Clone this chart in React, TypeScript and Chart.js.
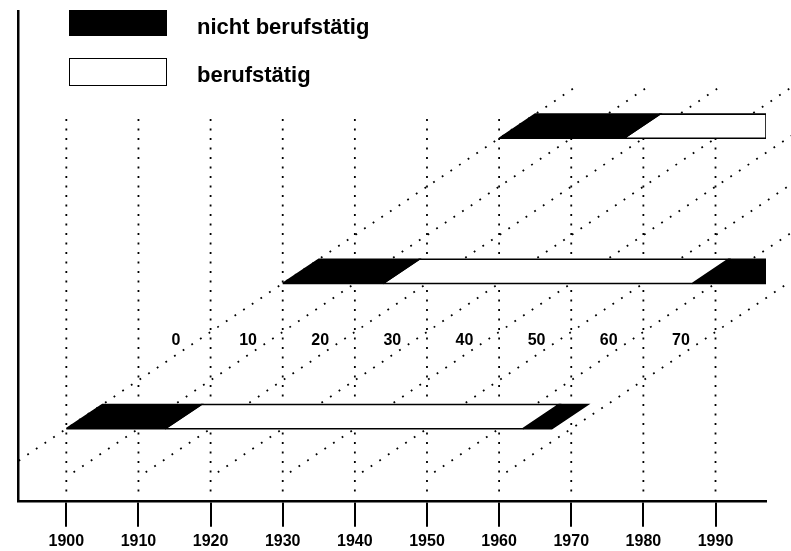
import React, { useEffect, useRef } from 'react';
import { Chart, registerables } from 'chart.js';

Chart.register(...registerables);

// ---- data ----
const decades = [1900, 1910, 1920, 1930, 1940, 1950, 1960, 1970, 1980, 1990];
const tickLabels = ['1900', '1910', '1920', '1930', '1940', '1950', '1960', '1970', '1980', '1990'];

const ageLines = [0, 10, 20, 30, 40, 50, 60, 70];
const ageLabels = ['0', '10', '20', '30', '40', '50', '60', '70'];

const legendLabels = ['nicht berufstätig', 'berufstätig'];

// birth cohorts shown as bands (5 birth years thick)
const cohorts = [1900, 1930, 1960];
const cohortBand = 5;

// phases of each life course: [status, fromAge, toAge] (null = still ongoing at end of observation)
const phases1900: [string, number, number | null][] = [
  ['nicht', 0, 13.7],
  ['beruf', 13.7, 63.3],
  ['nicht', 63.3, 67.3],
];
const phases1930: [string, number, number | null][] = [
  ['nicht', 0, 13.9],
  ['beruf', 13.9, 56.8],
  ['nicht', 56.8, null],
];
const phases1960: [string, number, number | null][] = [
  ['nicht', 0, 17.3],
  ['beruf', 17.3, null],
];
const cohortPhases = [phases1900, phases1930, phases1960];

// axis ranges (calendar year horizontally, birth year vertically)
const yearMin = 1893.3;
const yearMax = 1997;
const cohortMin = 1885.1;
const cohortMax = 1986.3;

// extents of the dotted guide lines
const ageLineCohortFrom = 1891;
const ageLineCohortTo = 1971;
const gridCohortFrom = 1887;
const gridCohortTo = 1964;

// age labels sit on this birth-year row, a little left of their line
const ageLabelCohort = 1918.1;
const ageLabelShift = -2.9;

const FONT = '"Liberation Sans", Arial, Helvetica, sans-serif';

function bandPolygon(c: number, a: number, b: number | null) {
  const t = cohortBand;
  const pts: { x: number; y: number }[] = [];
  pts.push({ x: c + a, y: c });
  if (b === null || c + b >= yearMax) {
    pts.push({ x: yearMax, y: c });
    pts.push({ x: yearMax, y: c + t });
  } else if (c + t + b <= yearMax) {
    pts.push({ x: c + b, y: c });
    pts.push({ x: c + t + b, y: c + t });
  } else {
    pts.push({ x: c + b, y: c });
    pts.push({ x: yearMax, y: c + (yearMax - c - b) });
    pts.push({ x: yearMax, y: c + t });
  }
  pts.push({ x: c + t + a, y: c + t });
  pts.push({ x: c + a, y: c });
  return pts;
}

const ageLabelPlugin = {
  id: 'ageLabels',
  afterDatasetsDraw(chart: any) {
    const { ctx, scales } = chart;
    const x = scales.x;
    const y = scales.y;
    ctx.save();
    ctx.font = `bold 16px ${FONT}`;
    ctx.fillStyle = '#000';
    ctx.textAlign = 'center';
    ctx.textBaseline = 'middle';
    ageLines.forEach((a, i) => {
      ctx.fillText(
        ageLabels[i],
        x.getPixelForValue(ageLabelCohort + a + ageLabelShift),
        y.getPixelForValue(ageLabelCohort)
      );
    });
    ctx.restore();
  },
};

export default function App() {
  const canvasRef = useRef<HTMLCanvasElement | null>(null);

  useEffect(() => {
    const canvas = canvasRef.current;
    if (!canvas) return;

    const datasets: any[] = [];

    cohorts.forEach((c, ci) => {
      cohortPhases[ci].forEach(([status, a, b]) => {
        datasets.push({
          label: status === 'nicht' ? legendLabels[0] : legendLabels[1],
          data: bandPolygon(c, a, b),
          borderColor: '#000',
          borderWidth: 1.6,
          backgroundColor: status === 'nicht' ? '#000' : '#fff',
          fill: 'shape',
          pointRadius: 0,
          tension: 0,
          borderJoinStyle: 'miter',
          order: 0,
        });
      });
    });

    ageLines.forEach((a) => {
      datasets.push({
        label: 'Alter ' + a,
        data: [
          { x: ageLineCohortFrom + a, y: ageLineCohortFrom },
          { x: ageLineCohortTo + a, y: ageLineCohortTo },
        ],
        borderColor: '#000',
        borderWidth: 1.8,
        borderDash: [1.8, 8.6],
        pointRadius: 0,
        fill: false,
        clip: { left: 0, top: 0, bottom: 0, right: false },
        order: 1,
      });
    });

    decades.forEach((d) => {
      datasets.push({
        label: 'Jahr ' + d,
        data: [
          { x: d, y: gridCohortFrom },
          { x: d, y: gridCohortTo },
        ],
        borderColor: '#000',
        borderWidth: 1.8,
        borderDash: [2, 7.5],
        pointRadius: 0,
        fill: false,
        order: 1,
      });
    });

    const chart = new Chart(canvas, {
      type: 'line',
      data: { datasets },
      options: {
        responsive: false,
        animation: false,
        events: [],
        layout: { padding: { left: 18, right: 25, top: 11, bottom: -5 } },
        plugins: {
          legend: { display: false },
          tooltip: { enabled: false },
        },
        scales: {
          x: {
            type: 'linear',
            min: yearMin,
            max: yearMax,
            afterBuildTicks: (scale: any) => {
              scale.ticks = decades.map((v) => ({ value: v }));
            },
            ticks: {
              autoSkip: false,
              maxRotation: 0,
              padding: 5,
              color: '#000',
              font: { family: FONT, size: 16, weight: 'bold' },
              callback: (v: any) => tickLabels[decades.indexOf(Number(v))] ?? '',
            },
            grid: {
              display: true,
              drawOnChartArea: false,
              drawTicks: true,
              tickLength: 26,
              tickWidth: 2,
              tickColor: '#000',
              color: '#000',
              lineWidth: 2,
            },
            border: { display: true, color: '#000', width: 2.5 },
          },
          y: {
            type: 'linear',
            min: cohortMin,
            max: cohortMax,
            ticks: { display: false },
            grid: { display: false, drawTicks: false },
            border: { display: true, color: '#000', width: 2.5 },
          },
        },
      },
      plugins: [ageLabelPlugin],
    } as any);

    return () => chart.destroy();
  }, []);

  return (
    <div style={{ position: 'absolute', left: 0, top: 0, width: 791, height: 551, background: '#fff' }}>
      <canvas ref={canvasRef} width={791} height={551} style={{ position: 'absolute', left: 0, top: 0 }} />
      <div style={{ position: 'absolute', left: 69, top: 10, width: 98, height: 26, background: '#000' }} />
      <div
        style={{
          position: 'absolute', left: 197, top: 16, fontFamily: FONT, fontWeight: 'bold',
          fontSize: 22, lineHeight: '22px', color: '#000', whiteSpace: 'nowrap',
        }}
      >
        {legendLabels[0]}
      </div>
      <div
        style={{
          position: 'absolute', left: 69, top: 58, width: 98, height: 28, background: '#fff',
          border: '1.5px solid #000', boxSizing: 'border-box',
        }}
      />
      <div
        style={{
          position: 'absolute', left: 197, top: 64, fontFamily: FONT, fontWeight: 'bold',
          fontSize: 22, lineHeight: '22px', color: '#000', whiteSpace: 'nowrap',
        }}
      >
        {legendLabels[1]}
      </div>
    </div>
  );
}
